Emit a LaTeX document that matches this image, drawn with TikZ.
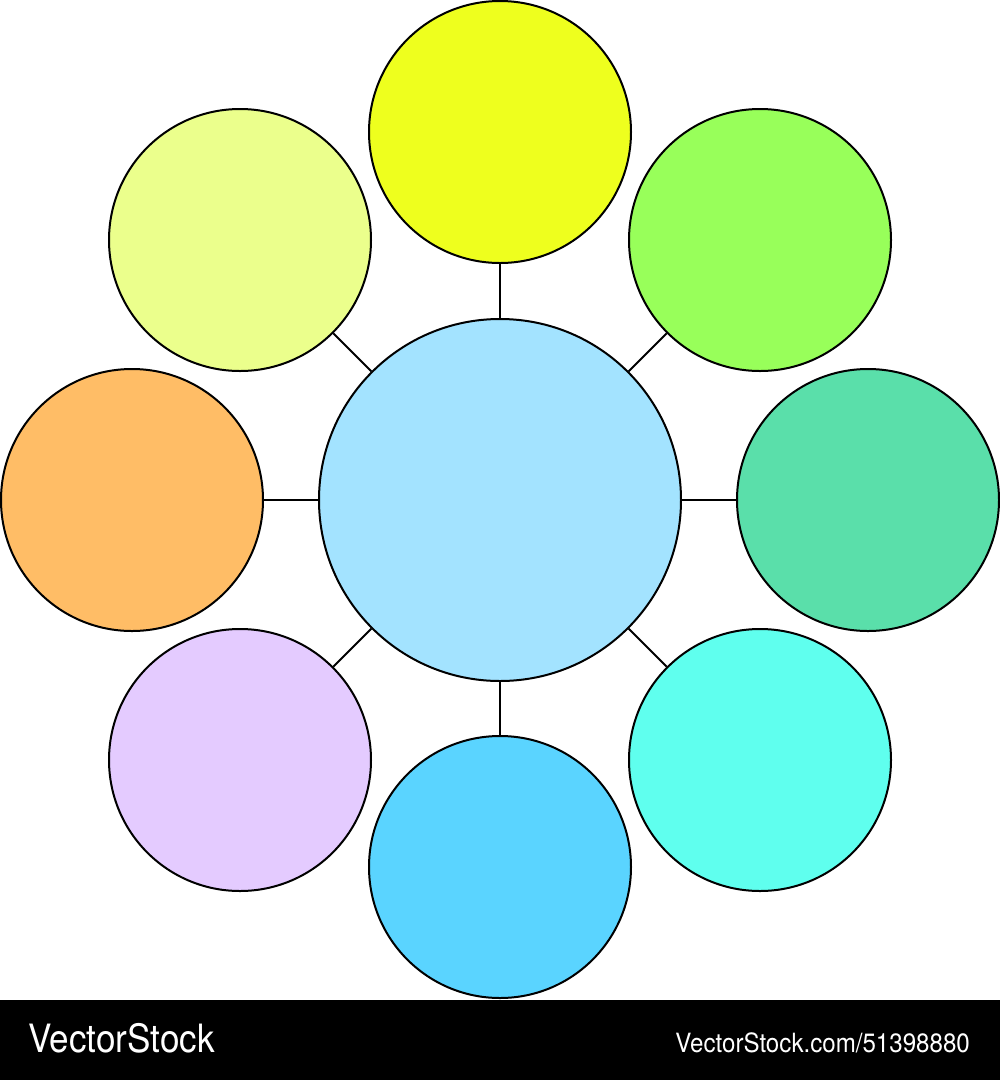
\documentclass[tikz,border=0pt]{standalone}
\usepackage{fontspec}
\setmainfont{TeX Gyre Heros}
\definecolor{cC}{HTML}{A3E3FF}
\definecolor{cN}{HTML}{EEFF1E}
\definecolor{cNE}{HTML}{98FF5A}
\definecolor{cE}{HTML}{5ADFAA}
\definecolor{cSE}{HTML}{5FFFEE}
\definecolor{cS}{HTML}{5AD4FF}
\definecolor{cSW}{HTML}{E4CBFF}
\definecolor{cW}{HTML}{FFBD66}
\definecolor{cNW}{HTML}{EBFF8C}
\begin{document}
\begin{tikzpicture}[x=1pt,y=-1pt,
  bubble/.style={circle,draw=black,line width=2pt,minimum size=262pt,inner sep=0pt},
  hub/.style={circle,draw=black,line width=2pt,minimum size=362pt,inner sep=0pt,fill=cC},
  link/.style={draw=black,line width=2pt}]
\useasboundingbox (0,0) rectangle (1000,1080);
\node[hub] (c) at (500,500) {};
\node[bubble,fill=cN]  (n)  at (500,132) {};
\node[bubble,fill=cNE] (ne) at (760,240) {};
\node[bubble,fill=cE]  (e)  at (868,500) {};
\node[bubble,fill=cSE] (se) at (760,760) {};
\node[bubble,fill=cS]  (s)  at (500,867) {};
\node[bubble,fill=cSW] (sw) at (240,760) {};
\node[bubble,fill=cW]  (w)  at (132,500) {};
\node[bubble,fill=cNW] (nw) at (240,240) {};
\foreach \o in {n,ne,e,se,s,sw,w,nw} \draw[link] (c) -- (\o);
\fill[black] (0,1000) rectangle (1000,1080);
\node[anchor=base west,inner sep=0pt,text=white,font=\fontsize{39pt}{39pt}\selectfont,xscale=0.9] (wm1) at (28,1052) {VectorStock};
\node[anchor=base east,inner sep=0pt,text=white,font=\fontsize{26.5pt}{26.5pt}\selectfont,xscale=0.91] (wm2) at (970,1052) {VectorStock.com/51398880};
\end{tikzpicture}
\end{document}
